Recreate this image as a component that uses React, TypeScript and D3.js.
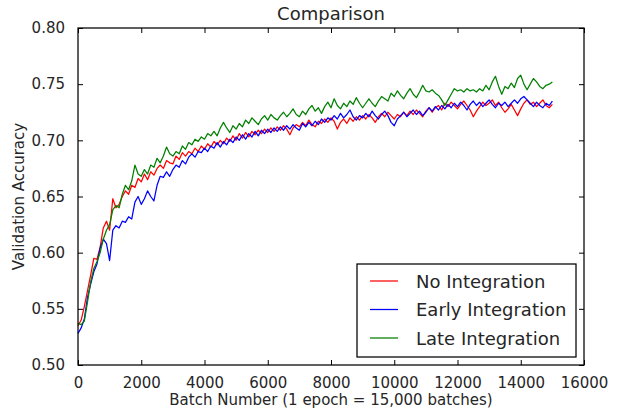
// App.tsx
import React, { useEffect, useRef } from "react";
import * as d3 from "d3";

// batch numbers are sampled every STEP batches starting at 0
const STEP = 100;

const noIntegration = [
  0.535, 0.540, 0.552, 0.566, 0.580, 0.595, 0.594, 0.605, 0.622, 0.628,
  0.620, 0.648, 0.640, 0.643, 0.650, 0.655, 0.652, 0.660, 0.658, 0.666,
  0.663, 0.670, 0.665, 0.672, 0.669, 0.675, 0.678, 0.675, 0.682, 0.680,
  0.679, 0.686, 0.683, 0.689, 0.686, 0.690, 0.688, 0.693, 0.690, 0.695,
  0.692, 0.697, 0.694, 0.699, 0.696, 0.700, 0.697, 0.702, 0.699, 0.704,
  0.700, 0.706, 0.702, 0.707, 0.703, 0.708, 0.705, 0.709, 0.706, 0.710,
  0.707, 0.711, 0.708, 0.712, 0.709, 0.713, 0.710, 0.705, 0.711, 0.714,
  0.712, 0.716, 0.713, 0.718, 0.714, 0.712, 0.717, 0.715, 0.719, 0.716,
  0.720, 0.717, 0.710, 0.716, 0.719, 0.715, 0.720, 0.717, 0.721, 0.718,
  0.722, 0.719, 0.723, 0.720, 0.716, 0.721, 0.724, 0.721, 0.725, 0.722,
  0.719, 0.723, 0.721, 0.725, 0.722, 0.726, 0.723, 0.727, 0.724, 0.721,
  0.726, 0.729, 0.725, 0.729, 0.731, 0.727, 0.733, 0.730, 0.734, 0.731,
  0.728, 0.732, 0.735, 0.731, 0.727, 0.721, 0.726, 0.730, 0.734, 0.731,
  0.733, 0.736, 0.731, 0.734, 0.729, 0.725, 0.728, 0.732, 0.727, 0.722,
  0.728, 0.733, 0.736, 0.732, 0.734, 0.730, 0.733, 0.736, 0.731, 0.729,
  0.732,
];

const earlyIntegration = [
  0.528, 0.533, 0.541, 0.560, 0.572, 0.583, 0.590, 0.604, 0.612, 0.608,
  0.593, 0.620, 0.624, 0.622, 0.628, 0.627, 0.632, 0.630, 0.645, 0.650,
  0.643, 0.648, 0.655, 0.650, 0.646, 0.660, 0.668, 0.667, 0.672, 0.668,
  0.674, 0.678, 0.676, 0.682, 0.679, 0.685, 0.688, 0.685, 0.690, 0.689,
  0.693, 0.690, 0.695, 0.693, 0.698, 0.694, 0.699, 0.696, 0.701, 0.698,
  0.703, 0.700, 0.705, 0.701, 0.706, 0.703, 0.708, 0.704, 0.709, 0.706,
  0.710, 0.707, 0.711, 0.708, 0.712, 0.709, 0.713, 0.710, 0.714, 0.711,
  0.709, 0.715, 0.712, 0.716, 0.713, 0.717, 0.714, 0.719, 0.716, 0.720,
  0.718, 0.722, 0.719, 0.724, 0.720, 0.723, 0.727, 0.721, 0.718, 0.722,
  0.720, 0.724, 0.721, 0.726, 0.722, 0.719, 0.723, 0.726, 0.722, 0.716,
  0.713, 0.719, 0.722, 0.725, 0.721, 0.724, 0.727, 0.723, 0.726, 0.722,
  0.725, 0.729, 0.726, 0.730, 0.727, 0.731, 0.728, 0.732, 0.729, 0.733,
  0.730, 0.734, 0.731, 0.727, 0.732, 0.735, 0.731, 0.734, 0.730, 0.733,
  0.736, 0.732, 0.729, 0.733, 0.731, 0.734, 0.730, 0.733, 0.736, 0.733,
  0.737, 0.739, 0.736, 0.733, 0.730, 0.734, 0.731, 0.729, 0.733, 0.731,
  0.735,
];

const lateIntegration = [
  0.537, 0.536, 0.539, 0.556, 0.574, 0.586, 0.592, 0.600, 0.612, 0.620,
  0.625, 0.638, 0.642, 0.640, 0.652, 0.660, 0.656, 0.664, 0.678, 0.670,
  0.668, 0.674, 0.670, 0.678, 0.676, 0.684, 0.680, 0.686, 0.694, 0.688,
  0.686, 0.690, 0.688, 0.695, 0.692, 0.698, 0.696, 0.701, 0.699, 0.703,
  0.701, 0.706, 0.704, 0.708, 0.704, 0.711, 0.716, 0.711, 0.707, 0.713,
  0.710, 0.715, 0.712, 0.718, 0.715, 0.720, 0.717, 0.714, 0.719, 0.722,
  0.718, 0.723, 0.720, 0.718, 0.722, 0.725, 0.721, 0.724, 0.728, 0.723,
  0.721, 0.726, 0.723, 0.728, 0.731, 0.726, 0.729, 0.724, 0.730, 0.734,
  0.729, 0.737, 0.731, 0.728, 0.733, 0.730, 0.735, 0.732, 0.738, 0.733,
  0.729, 0.733, 0.737, 0.733, 0.730, 0.735, 0.739, 0.737, 0.735, 0.742,
  0.739, 0.744, 0.740, 0.737, 0.742, 0.746, 0.741, 0.738, 0.743, 0.749,
  0.744, 0.743, 0.745, 0.742, 0.740, 0.736, 0.731, 0.736, 0.741, 0.746,
  0.744, 0.745, 0.743, 0.746, 0.744, 0.745, 0.743, 0.746, 0.744, 0.749,
  0.745, 0.752, 0.757, 0.748, 0.741, 0.748, 0.746, 0.751, 0.747, 0.755,
  0.758, 0.750, 0.745, 0.750, 0.755, 0.752, 0.748, 0.746, 0.749, 0.750,
  0.752,
];

const seriesNames = ["No Integration", "Early Integration", "Late Integration"];
const seriesColors = ["#ff0000", "#0000ff", "#008000"];
const xTicks = [0, 2000, 4000, 6000, 8000, 10000, 12000, 14000, 16000];
const yTicks = [0.5, 0.55, 0.6, 0.65, 0.7, 0.75, 0.8];

const FONT = "'DejaVu Sans', sans-serif";

const Chart = () => {
  const ref = useRef<SVGSVGElement>(null);

  useEffect(() => {
    const root = d3.select(ref.current);
    root.selectAll("*").remove();

    const W = 618;
    const H = 410;
    const margin = { top: 28, right: 34, bottom: 45, left: 78 };
    const width = W - margin.left - margin.right;
    const height = H - margin.top - margin.bottom;

    root.attr("width", W).attr("height", H);
    root.append("rect").attr("width", W).attr("height", H).attr("fill", "#ffffff");

    const svg = root.append("g")
      .attr("transform", `translate(${margin.left}, ${margin.top})`);

    const x = d3.scaleLinear().domain([0, 16000]).range([0, width]);
    const y = d3.scaleLinear().domain([0.5, 0.8]).range([height, 0]);

    const allSeries = [noIntegration, earlyIntegration, lateIntegration];

    const line = d3.line<number>()
      .x((_, i) => x(i * STEP))
      .y(d => y(d));

    // series lines
    allSeries.forEach((s, i) => {
      svg.append("path")
        .datum(s)
        .attr("d", line)
        .attr("fill", "none")
        .attr("stroke", seriesColors[i])
        .attr("stroke-width", 1.25)
        .attr("stroke-linejoin", "round");
    });

    // ticks inward on all four sides (classic style)
    const tickLen = 5;
    const tickStyle = (g: any) => {
      g.select(".domain").remove();
      g.selectAll(".tick line").attr("stroke", "#000").attr("stroke-width", 1);
      g.selectAll("text")
        .style("font-family", FONT)
        .style("font-size", "15px")
        .attr("fill", "#262626");
    };

    svg.append("g")
      .attr("transform", `translate(0, ${height})`)
      .call(d3.axisBottom(x).tickValues(xTicks).tickFormat(d3.format("d"))
        .tickSizeInner(-tickLen).tickSizeOuter(0).tickPadding(12))
      .call(tickStyle);

    svg.append("g")
      .call(d3.axisTop(x).tickValues(xTicks).tickFormat(() => "")
        .tickSizeInner(-tickLen).tickSizeOuter(0))
      .call(tickStyle);

    svg.append("g")
      .call(d3.axisLeft(y).tickValues(yTicks).tickFormat(d3.format(".2f"))
        .tickSizeInner(-tickLen).tickSizeOuter(0).tickPadding(13))
      .call(tickStyle);

    svg.append("g")
      .attr("transform", `translate(${width}, 0)`)
      .call(d3.axisRight(y).tickValues(yTicks).tickFormat(() => "")
        .tickSizeInner(-tickLen).tickSizeOuter(0))
      .call(tickStyle);

    // frame
    svg.append("rect")
      .attr("width", width)
      .attr("height", height)
      .attr("fill", "none")
      .attr("stroke", "#000")
      .attr("stroke-width", 1.25);

    // title and axis labels
    root.append("text")
      .attr("x", margin.left + width / 2)
      .attr("y", 20)
      .attr("text-anchor", "middle")
      .style("font-family", FONT)
      .style("font-size", "18px")
      .attr("fill", "#262626")
      .text("Comparison");

    root.append("text")
      .attr("x", margin.left + width / 2)
      .attr("y", 405)
      .attr("text-anchor", "middle")
      .style("font-family", FONT)
      .style("font-size", "15px")
      .attr("fill", "#262626")
      .text("Batch Number (1 epoch = 15,000 batches)");

    root.append("text")
      .attr("transform", `translate(24, ${margin.top + height / 2}) rotate(-90)`)
      .attr("text-anchor", "middle")
      .style("font-family", FONT)
      .style("font-size", "15px")
      .attr("fill", "#262626")
      .text("Validation Accuracy");

    // legend
    const legend = root.append("g").attr("transform", "translate(357, 264)");
    legend.append("rect")
      .attr("width", 219)
      .attr("height", 93)
      .attr("fill", "#ffffff")
      .attr("stroke", "#000")
      .attr("stroke-width", 1.25);

    seriesNames.forEach((name, i) => {
      const cy = 17 + i * 28.5;
      legend.append("line")
        .attr("x1", 13).attr("x2", 41)
        .attr("y1", cy).attr("y2", cy)
        .attr("stroke", seriesColors[i])
        .attr("stroke-width", 1.25);
      legend.append("text")
        .attr("x", 59)
        .attr("y", cy + 6.5)
        .style("font-family", FONT)
        .style("font-size", "18px")
        .attr("fill", "#262626")
        .text(name);
    });
  }, []);

  return <svg ref={ref}></svg>;
};

export default function App() {
  return (
    <div style={{ position: "absolute", left: 0, top: 0 }}>
      <Chart />
    </div>
  );
}
